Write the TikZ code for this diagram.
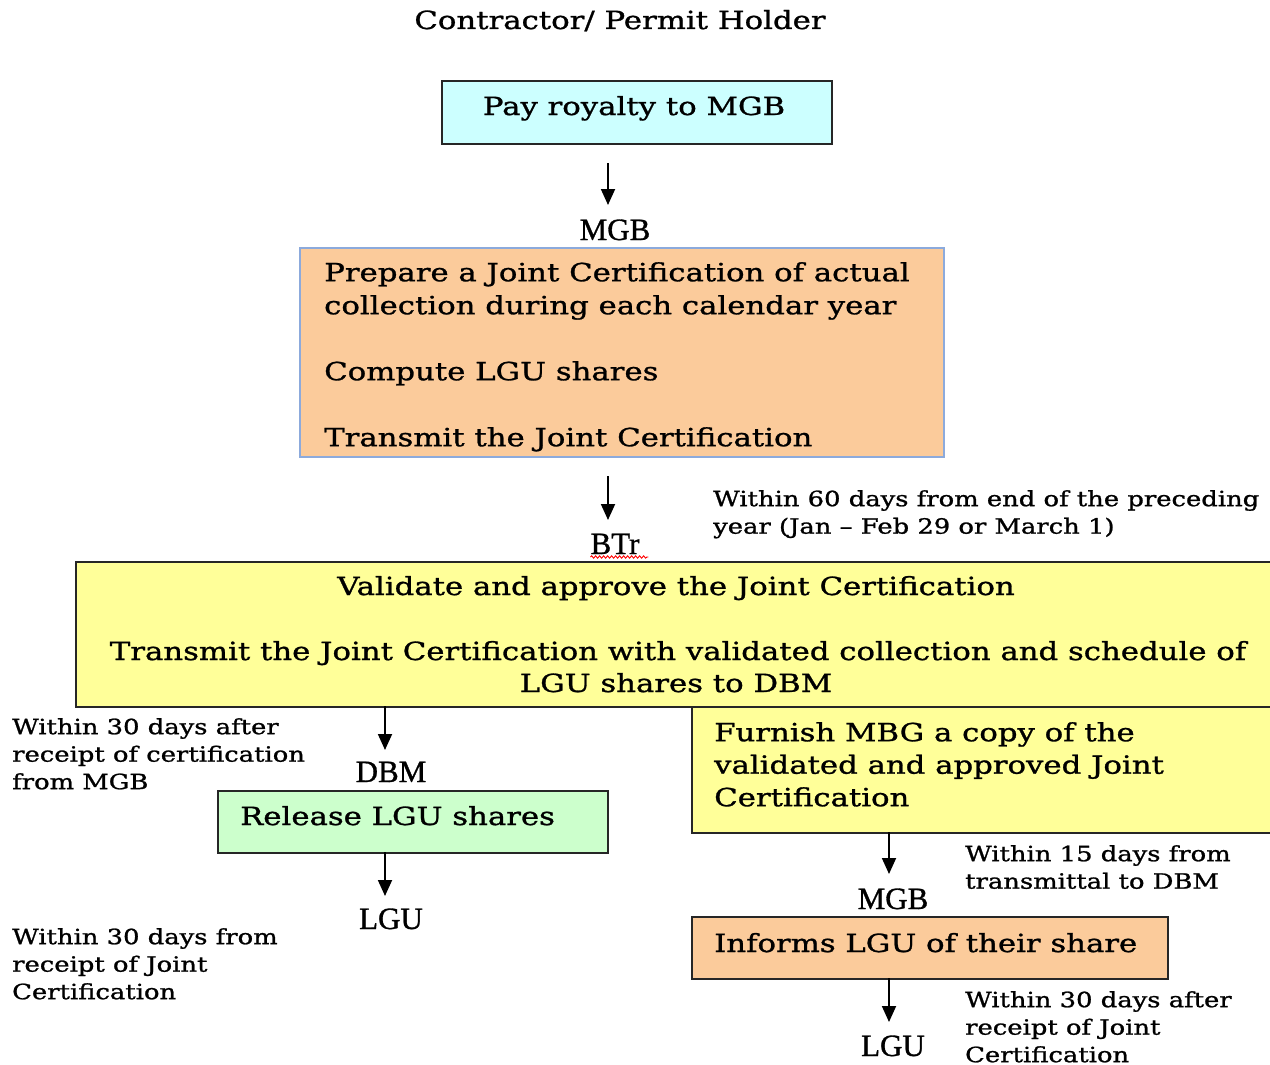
\documentclass[tikz,border=0pt]{standalone}
\usepackage{fontspec}
\setmainfont[FakeStretch=1.23,FakeBold=1.1]{DejaVu Serif}
\newfontfamily\lblfont[FakeBold=1.0]{Liberation Serif}
\usetikzlibrary{arrows.meta,decorations.pathmorphing}
\definecolor{cyanbox}{RGB}{204,255,255}
\definecolor{peach}{RGB}{251,203,155}
\definecolor{ylw}{RGB}{255,255,153}
\definecolor{grn}{RGB}{204,255,204}
\definecolor{bluebd}{RGB}{140,170,220}
\begin{document}
\begin{tikzpicture}[x=1pt,y=-1pt,
  box/.style={draw=black!85, line width=1.6pt, inner sep=0pt, anchor=north west},
  big/.style={font=\fontsize{25}{33}\selectfont, inner sep=0pt},
  note/.style={font=\fontsize{21}{27.5}\selectfont, inner sep=0pt, align=left, anchor=north west},
  lbl/.style={font=\lblfont\fontsize{31}{32}\selectfont, inner sep=0pt, anchor=base},
  arr/.style={line width=1.8pt, -{Triangle[length=16pt,width=14pt]}}]
\useasboundingbox (0,0) rectangle (1270,1065);
\fill[white] (0,0) rectangle (1270,1065);

% title
\node[big, anchor=base] (title) at (620,29) {Contractor/ Permit Holder};

% box 1
\node[box, fill=cyanbox, minimum width=390pt, minimum height=63pt] (b1) at (441,80) {};
\node[big, anchor=base] (t1) at (634,115) {Pay royalty to MGB};
\coordinate (a1s) at (608,163); \coordinate (a1e) at (608,205);
\draw[arr] (a1s) -- (a1e);
\node[lbl] (mgb1) at (615,240) {MGB};

% box 2
\node[box, fill=peach, draw=bluebd, minimum width=644pt, minimum height=209pt] (b2) at (299,247) {};
\node[big, anchor=north west, align=left] (t2) at (324,262) {Prepare a Joint Certification of actual\\
collection during each calendar year\\[33pt]
Compute LGU shares\\[33pt]
Transmit the Joint Certification};
\coordinate (a2s) at (608,476); \coordinate (a2e) at (608,520);
\draw[arr] (a2s) -- (a2e);
\node[note] (n60) at (713,490) {Within 60 days from end of the preceding\\year (Jan -- Feb 29 or March 1)};
\node[lbl] (btr) at (615,554) {BTr};
\draw[red, line width=0.9pt, decorate, decoration={snake, amplitude=1.2pt, segment length=4pt}] (btr.base west) ++(0,3) -- ++(58,0);

% yellow box
\node[box, fill=ylw, minimum width=1205pt, minimum height=145pt] (b3) at (75,561) {};
\node[big, anchor=base] (t3a) at (676,595) {Validate and approve the Joint Certification};
\node[big, anchor=base] (t3b) at (678,660) {Transmit the Joint Certification with validated collection and schedule of};
\node[big, anchor=base] (t3c) at (676,692) {LGU shares to DBM};

% right yellow box
\node[box, fill=ylw, minimum width=589pt, minimum height=126pt] (b4) at (691,706) {};
\node[big, anchor=north west, align=left, font=\fontsize{25}{32.5}\selectfont] (t4) at (714,722) {Furnish MBG a copy of the\\validated and approved Joint\\Certification};

% left branch
\coordinate (a3s) at (385,706); \coordinate (a3e) at (385,750);
\draw[arr] (a3s) -- (a3e);
\node[note] (n30a) at (12,718) {Within 30 days after\\receipt of certification\\from MGB};
\node[lbl] (dbm) at (391,782) {DBM};
\node[box, fill=grn, minimum width=390pt, minimum height=62pt] (b5) at (217,790) {};
\node[big, anchor=base west] (t5) at (240,825) {Release LGU shares};
\coordinate (a4s) at (385,852); \coordinate (a4e) at (385,896);
\draw[arr] (a4s) -- (a4e);
\node[lbl] (lgu1) at (391,929) {LGU};
\node[note] (n30b) at (12,928) {Within 30 days from\\receipt of Joint\\Certification};

% right branch
\coordinate (a5s) at (889,832); \coordinate (a5e) at (889,874);
\draw[arr] (a5s) -- (a5e);
\node[note] (n15) at (965,845) {Within 15 days from\\transmittal to DBM};
\node[lbl] (mgb2) at (893,909) {MGB};
\node[box, fill=peach, minimum width=476pt, minimum height=62pt] (b6) at (691,916) {};
\node[big, anchor=base west] (t6) at (714,952) {Informs LGU of their share};
\coordinate (a6s) at (889,978); \coordinate (a6e) at (889,1022);
\draw[arr] (a6s) -- (a6e);
\node[lbl] (lgu2) at (893,1056) {LGU};
\node[note] (n30c) at (965,991) {Within 30 days after\\receipt of Joint\\Certification};
\end{tikzpicture}
\end{document}
